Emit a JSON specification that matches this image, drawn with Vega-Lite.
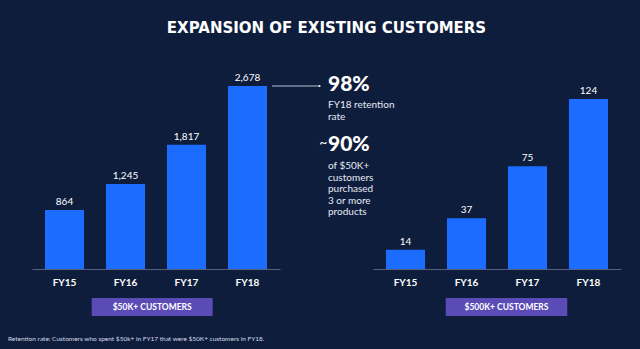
{
  "$schema": "https://vega.github.io/schema/vega-lite/v6.json",
  "background": "#0f1d3d",
  "padding": {"left": 8, "top": 21, "right": 19, "bottom": 7},
  "config": {
    "view": {"stroke": null},
    "font": "Lato",
    "text": {"font": "Lato"},
    "axis": {"labelFont": "Lato", "titleFont": "Lato"}
  },
  "title": {
    "text": "EXPANSION OF EXISTING CUSTOMERS",
    "font": "DejaVu Sans",
    "fontSize": 15,
    "fontWeight": "bold",
    "color": "#ffffff",
    "anchor": "middle",
    "frame": "bounds",
    "dx": 12,
    "offset": 37
  },
  "datasets": {
    "fifty": [
      {"year": "FY15", "customers": 864},
      {"year": "FY16", "customers": 1245},
      {"year": "FY17", "customers": 1817},
      {"year": "FY18", "customers": 2678}
    ],
    "fivehundred": [
      {"year": "FY15", "customers": 14},
      {"year": "FY16", "customers": 37},
      {"year": "FY17", "customers": 75},
      {"year": "FY18", "customers": 124}
    ],
    "notes": [
      {"key": "retention", "pct": 0.98, "caption": "FY18 retention\nrate"},
      {"key": "multi", "pct": 0.9, "caption": "of $50K+\ncustomers\npurchased\n3 or more\nproducts"}
    ]
  },
  "columns": 2,
  "spacing": {"row": 29, "column": 93},
  "bounds": "flush",
  "resolve": {"scale": {"x": "independent", "y": "independent"}},
  "concat": [
    {
      "width": 248,
      "height": 183,
      "data": {"name": "fifty"},
      "encoding": {
        "x": {
          "field": "year",
          "type": "nominal",
          "sort": null,
          "scale": {"paddingInner": 0.36, "paddingOuter": 0.213},
          "axis": {
            "title": null,
            "labelColor": "#ffffff",
            "labelFontSize": 10,
            "labelFontWeight": "bold",
            "labelAngle": 0,
            "labelPadding": 8,
            "ticks": false,
            "grid": false,
            "domainColor": "#56627d",
            "domainWidth": 1
          }
        }
      },
      "layer": [
        {
          "mark": {"type": "bar", "color": "#1b6cff"},
          "encoding": {
            "y": {"field": "customers", "type": "quantitative", "scale": {"domain": [0, 2678], "nice": false}, "axis": null}
          }
        },
        {
          "mark": {"type": "text", "color": "#ffffff", "fontSize": 10, "baseline": "bottom", "dy": -3},
          "encoding": {
            "y": {"field": "customers", "type": "quantitative"},
            "text": {"field": "customers", "type": "quantitative", "format": ","}
          }
        },
        {
          "data": {"name": "notes"},
          "transform": [{"filter": "datum.key == 'retention'"}],
          "mark": {"type": "rule", "color": "#b9c2d6", "strokeWidth": 1, "xOffset": 24.5, "x2Offset": 71},
          "encoding": {
            "x": {"datum": "FY18"},
            "x2": {"datum": "FY18"},
            "y": {"datum": 2678, "type": "quantitative"}
          }
        },
        {
          "data": {"name": "notes"},
          "transform": [{"filter": "datum.key == 'retention'"}],
          "mark": {"type": "point", "shape": "circle", "filled": true, "color": "#ffffff", "size": 5, "opacity": 1, "xOffset": 72},
          "encoding": {
            "x": {"datum": "FY18"},
            "y": {"datum": 2678, "type": "quantitative"}
          }
        },
        {
          "data": {"name": "notes"},
          "transform": [{"filter": "datum.key == 'retention'"}],
          "mark": {"type": "text", "color": "#ffffff", "fontSize": 21, "fontWeight": 900, "align": "left", "baseline": "middle", "dx": 80.5, "dy": -1.5},
          "encoding": {
            "x": {"datum": "FY18"},
            "y": {"datum": 2678, "type": "quantitative"},
            "text": {"field": "pct", "type": "quantitative", "format": ".0%"}
          }
        },
        {
          "data": {"name": "notes"},
          "transform": [{"filter": "datum.key == 'retention'"}],
          "mark": {"type": "text", "color": "#e6eaf3", "fontSize": 10, "align": "left", "baseline": "top", "lineBreak": "\n", "lineHeight": 11.5, "dx": 80.5, "dy": 14},
          "encoding": {
            "x": {"datum": "FY18"},
            "y": {"datum": 2678, "type": "quantitative"},
            "text": {"field": "caption", "type": "nominal"}
          }
        },
        {
          "data": {"name": "notes"},
          "transform": [{"filter": "datum.key == 'multi'"}],
          "mark": {"type": "text", "color": "#ffffff", "fontSize": 21, "fontWeight": 900, "align": "left", "baseline": "middle", "dx": 80.5, "dy": 58.5},
          "encoding": {
            "x": {"datum": "FY18"},
            "y": {"datum": 2678, "type": "quantitative"},
            "text": {"field": "pct", "type": "quantitative", "format": ".0%"}
          }
        },
        {
          "data": {"name": "notes"},
          "transform": [{"filter": "datum.key == 'multi'"}],
          "mark": {"type": "text", "color": "#ffffff", "fontSize": 14, "align": "right", "baseline": "middle", "dx": 80, "dy": 57},
          "encoding": {
            "x": {"datum": "FY18"},
            "y": {"datum": 2678, "type": "quantitative"},
            "text": {"value": "~"}
          }
        },
        {
          "data": {"name": "notes"},
          "transform": [{"filter": "datum.key == 'multi'"}],
          "mark": {"type": "text", "color": "#e6eaf3", "fontSize": 10, "align": "left", "baseline": "top", "lineBreak": "\n", "lineHeight": 11.5, "dx": 80.5, "dy": 75},
          "encoding": {
            "x": {"datum": "FY18"},
            "y": {"datum": 2678, "type": "quantitative"},
            "text": {"field": "caption", "type": "nominal"}
          }
        }
      ]
    },
    {
      "width": 248,
      "height": 183,
      "data": {"name": "fivehundred"},
      "encoding": {
        "x": {
          "field": "year",
          "type": "nominal",
          "sort": null,
          "scale": {"paddingInner": 0.36, "paddingOuter": 0.213},
          "axis": {
            "title": null,
            "labelColor": "#ffffff",
            "labelFontSize": 10,
            "labelFontWeight": "bold",
            "labelAngle": 0,
            "labelPadding": 8,
            "ticks": false,
            "grid": false,
            "domainColor": "#56627d",
            "domainWidth": 1
          }
        }
      },
      "layer": [
        {
          "mark": {"type": "bar", "color": "#1b6cff"},
          "encoding": {
            "y": {"field": "customers", "type": "quantitative", "scale": {"domain": [0, 133.5], "nice": false}, "axis": null}
          }
        },
        {
          "mark": {"type": "text", "color": "#ffffff", "fontSize": 10, "baseline": "bottom", "dy": -3},
          "encoding": {
            "y": {"field": "customers", "type": "quantitative"},
            "text": {"field": "customers", "type": "quantitative", "format": ","}
          }
        }
      ]
    },
    {
      "width": 248,
      "height": 18,
      "title": {
        "text": "Retention rate: Customers who spent $50k+ in FY17 that were $50K+ customers in FY18.",
        "orient": "bottom",
        "anchor": "start",
        "frame": "group",
        "font": "Lato",
        "fontSize": 6.5,
        "fontWeight": "normal",
        "color": "#d5dbe8",
        "dx": -24,
        "offset": 20
      },
      "data": {"values": [{"segment": "$50K+ CUSTOMERS"}]},
      "encoding": {
        "x": {"field": "segment", "type": "nominal", "scale": {"paddingInner": 0, "paddingOuter": 0.525, "align": 0.47}, "axis": null}
      },
      "layer": [
        {"mark": {"type": "rect", "color": "#5a4bb6", "cornerRadius": 1}},
        {
          "mark": {"type": "text", "color": "#ffffff", "fontSize": 8.5, "fontWeight": "bold", "letterSpacing": 0.8},
          "encoding": {"text": {"field": "segment", "type": "nominal"}}
        }
      ]
    },
    {
      "width": 248,
      "height": 18,
      "data": {"values": [{"segment": "$500K+ CUSTOMERS"}]},
      "encoding": {
        "x": {"field": "segment", "type": "nominal", "scale": {"paddingInner": 0, "paddingOuter": 0.52, "align": 0.575}, "axis": null}
      },
      "layer": [
        {"mark": {"type": "rect", "color": "#5a4bb6", "cornerRadius": 1}},
        {
          "mark": {"type": "text", "color": "#ffffff", "fontSize": 8.5, "fontWeight": "bold", "letterSpacing": 0.8},
          "encoding": {"text": {"field": "segment", "type": "nominal"}}
        }
      ]
    }
  ]
}
